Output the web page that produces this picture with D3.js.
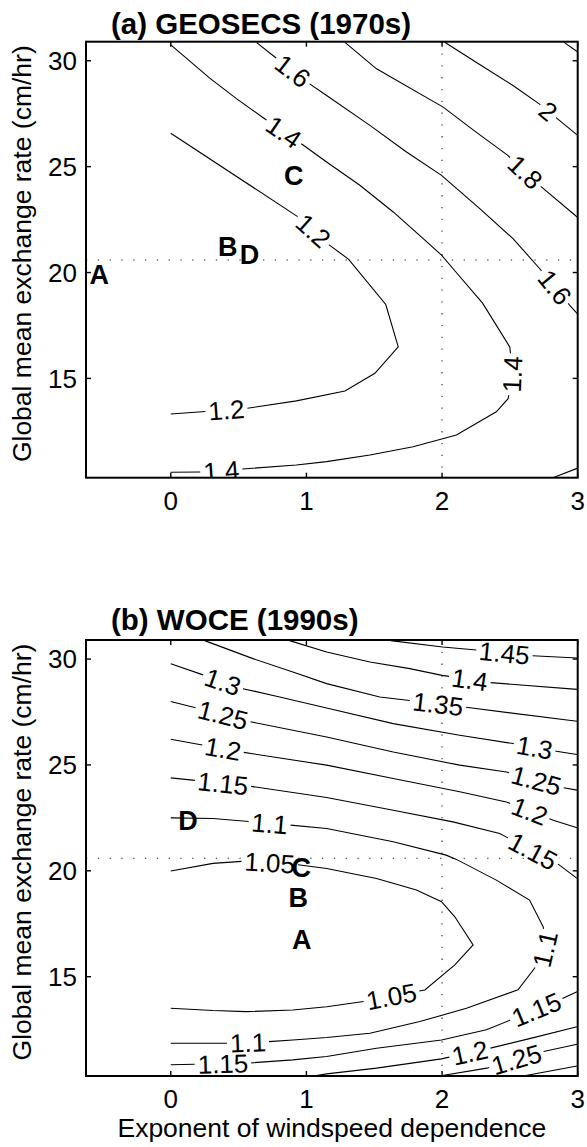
<!DOCTYPE html>
<html>
<head>
<meta charset="utf-8">
<script src="https://cdn.jsdelivr.net/npm/d3@7"></script>
<style>
  body { margin: 0; background: #fff; }
  svg { display: block; font-family: "Liberation Sans", Arial, Helvetica, sans-serif; }
</style>
</head>
<body>
<script>
// ---------- axes ----------
const xDomain = [-0.625, 3];
const yDomain = [10.31, 30.9];
const xTicks = [0, 1, 2, 3];
const yTicks = [15, 20, 25, 30];
const refExponent = 2;      // dotted vertical guide
const refRate = 20.59;      // dotted horizontal guide

// ---------- (a) GEOSECS contours: [exponent, exchange rate] ----------
const geo_1_2 = [[0,26.58],[0.94,22.62],[1.17,21.29],[1.31,20.63],[1.585,18.49],[1.677,16.49],[1.505,15.24],[1.284,14.40],[0.926,13.94],[0.557,13.58],[0,13.32]];
const geo_1_4 = [[0,30.75],[0.287,29.18],[0.484,28.21],[0.692,27.26],[0.962,26.08],[1.149,25.22],[1.394,24.12],[1.64,22.86],[1.861,21.6],[1.996,20.82],[2.08,20.19],[2.3,18.54],[2.499,16.49],[2.52,15.3],[2.487,14.04],[2.4,13.42],[2.106,12.33],[1.787,11.77],[1.468,11.38],[1.149,11.07],[0.926,10.91],[0.508,10.71],[0.238,10.58],[0,10.57]];
const geo_1_6 = [[0.631,30.87],[0.753,30.25],[1.024,28.91],[1.149,28.36],[1.468,26.95],[1.738,25.69],[1.996,24.59],[2.278,23.02],[2.523,21.6],[2.719,20.19],[2.94,18.46],[2.995,18.07]];
const geo_1_8 = [[1.284,30.87],[1.517,29.62],[2.008,27.81],[2.251,26.63],[2.485,25.53],[2.732,24.04],[2.996,22.62]];
const geo_2_0 = [[2.02,30.87],[2.251,29.93],[2.523,28.83],[2.719,27.95],[2.995,26.5]];
const geo_2_2 = [[2.9,30.87],[2.995,30.44]];
const geo_1_6b = [[2.818,10.31],[2.995,10.75]];

const geosecsContours = [
  { level: 1.2, pts: geo_1_2 },
  { level: 1.4, pts: geo_1_4 },
  { level: 1.6, pts: geo_1_6 },
  { level: 1.8, pts: geo_1_8 },
  { level: 2,   pts: geo_2_0 },
  { level: 2.2, pts: geo_2_2 },
  { level: 1.6, pts: geo_1_6b }
];
// contour index, position of the inline label
const geosecsLabels = [
  { c: 0, x: 1.05, y: 21.97 }, { c: 0, x: 0.41, y: 13.5 },
  { c: 1, x: 0.83, y: 26.6 },  { c: 1, x: 2.51, y: 15.2 }, { c: 1, x: 0.373, y: 10.6 },
  { c: 2, x: 0.9, y: 29.52 },  { c: 2, x: 2.83, y: 19.3 },
  { c: 3, x: 2.622, y: 24.8 },
  { c: 4, x: 2.78, y: 27.6 }
];
const geosecsPoints = [
  { name: "A", x: -0.527, y: 19.9 },
  { name: "B", x: 0.42, y: 21.24 },
  { name: "D", x: 0.58, y: 20.86 },
  { name: "C", x: 0.906, y: 24.59 }
];

// ---------- (b) WOCE contours ----------
const woce_1_05 = [[0,19.99],[0.311,20.35],[0.557,20.46],[0.925,20.3],[1.149,20.11],[1.517,19.64],[1.811,19.09],[1.996,18.54],[2.094,17.83],[2.229,16.5],[2.094,15.56],[1.873,14.37],[1.443,13.85],[1.149,13.58],[0.9,13.43],[0.557,13.35],[0.311,13.4],[0,13.51]];
const woce_1_1 = [[0,22.5],[0.311,22.47],[0.876,22.16],[1.149,22.0],[1.64,21.37],[2.03,20.74],[2.106,20.54],[2.4,19.56],[2.645,18.62],[2.745,17.36],[2.775,16.5],[2.682,15.4],[2.56,14.38],[2.18,13.51],[1.836,12.88],[1.468,12.33],[1.149,12.13],[0.9,12.01],[0.717,11.93],[0.41,11.86],[0,11.86]];
const woce_1_15 = [[0,24.39],[0.569,24.01],[1.149,23.46],[1.64,22.86],[2.08,22.31],[2.425,21.76],[2.866,20.27],[2.995,19.64]];
const woce_1_15b = [[0,10.84],[0.569,10.92],[0.9,11.07],[1.149,11.23],[1.517,11.62],[1.996,12.01],[2.327,12.49],[2.866,13.9],[2.995,14.29]];
const woce_1_2 = [[0,26.21],[0.52,25.61],[1.149,24.99],[1.64,24.36],[2.13,23.73],[2.474,23.25],[2.82,22.39],[2.995,22.03]];
const woce_1_2b = [[1.05,10.31],[1.149,10.41],[1.517,10.68],[1.996,11.12],[2.352,11.62],[2.66,12.1],[2.995,12.64]];
const woce_1_25 = [[0,28.0],[0.569,27.06],[1.149,26.32],[1.64,25.61],[2.13,24.99],[2.474,24.67],[2.866,23.96],[2.995,23.81]];
const woce_1_25b = [[1.98,10.31],[2.33,10.68],[2.72,11.43],[2.995,11.81]];
const woce_1_3 = [[0,29.78],[0.532,28.6],[0.803,28.21],[1.149,27.69],[1.64,26.95],[2.13,26.4],[2.523,26.01],[2.842,25.65],[2.995,25.49]];
const woce_1_3b = [[2.597,10.31],[2.995,10.78]];
const woce_1_35 = [[0.25,30.87],[0.606,30.02],[0.9,29.39],[1.149,28.84],[1.541,28.21],[2.154,27.74],[2.995,27.06]];
const woce_1_4 = [[0.876,30.87],[1.149,30.33],[1.468,29.86],[1.762,29.55],[2.0,29.23],[2.351,28.89],[2.995,28.57]];
const woce_1_45 = [[1.62,30.87],[2.005,30.57],[2.278,30.41],[2.655,30.16],[2.995,30.05]];

const woceContours = [
  { level: 1.05, pts: woce_1_05 },   // 0
  { level: 1.1,  pts: woce_1_1 },    // 1
  { level: 1.15, pts: woce_1_15 },   // 2
  { level: 1.15, pts: woce_1_15b },  // 3
  { level: 1.2,  pts: woce_1_2 },    // 4
  { level: 1.2,  pts: woce_1_2b },   // 5
  { level: 1.25, pts: woce_1_25 },   // 6
  { level: 1.25, pts: woce_1_25b },  // 7
  { level: 1.3,  pts: woce_1_3 },    // 8
  { level: 1.3,  pts: woce_1_3b },   // 9
  { level: 1.35, pts: woce_1_35 },   // 10
  { level: 1.4,  pts: woce_1_4 },    // 11
  { level: 1.45, pts: woce_1_45 }    // 12
];
const woceLabels = [
  { c: 0, x: 0.73, y: 20.4 },  { c: 0, x: 1.627, y: 14.07 },
  { c: 1, x: 0.729, y: 22.25 }, { c: 1, x: 2.76, y: 16.3 }, { c: 1, x: 0.569, y: 11.88 },
  { c: 2, x: 0.385, y: 24.13 }, { c: 2, x: 2.67, y: 20.93 },
  { c: 3, x: 0.385, y: 10.9 },  { c: 3, x: 2.695, y: 13.45 },
  { c: 4, x: 0.385, y: 25.76 }, { c: 4, x: 2.645, y: 22.8 },
  { c: 5, x: 2.205, y: 11.41 },
  { c: 6, x: 0.385, y: 27.36 }, { c: 6, x: 2.695, y: 24.27 },
  { c: 7, x: 2.548, y: 11.1 },
  { c: 8, x: 0.385, y: 28.93 }, { c: 8, x: 2.682, y: 25.83 },
  { c: 10, x: 1.97, y: 27.88 },
  { c: 11, x: 2.204, y: 29.0 },
  { c: 12, x: 2.46, y: 30.29 }
];
const wocePoints = [
  { name: "D", x: 0.127, y: 22.39 },
  { name: "C", x: 0.962, y: 20.15 },
  { name: "B", x: 0.94, y: 18.77 },
  { name: "A", x: 0.965, y: 16.79 }
];

// ---------- layout ----------
const W = 587, H = 1147;
const plotLeft = 86, plotRight = 577.7;
const fontSize = 26;

const panels = [
  { title: "(a) GEOSECS (1970s)", top: 41.7, bottom: 477.7, titleY: 33.5,
    contours: geosecsContours, labels: geosecsLabels, points: geosecsPoints, xlabel: false },
  { title: "(b) WOCE (1990s)", top: 640, bottom: 1076, titleY: 629.5,
    contours: woceContours, labels: woceLabels, points: wocePoints, xlabel: true }
];

const svg = d3.select("body").append("svg").attr("width", W).attr("height", H);
svg.append("rect").attr("width", W).attr("height", H).attr("fill", "#fff");
const defs = svg.append("defs");

// polyline helpers (pixel space)
function cumLen(pl) {
  const L = [0];
  for (let i = 1; i < pl.length; i++)
    L.push(L[i - 1] + Math.hypot(pl[i][0] - pl[i - 1][0], pl[i][1] - pl[i - 1][1]));
  return L;
}
function pointAt(pl, L, s) {
  s = Math.max(0, Math.min(L[L.length - 1], s));
  for (let i = 1; i < pl.length; i++) {
    if (s <= L[i]) {
      const seg = L[i] - L[i - 1] || 1;
      const t = (s - L[i - 1]) / seg;
      return [pl[i - 1][0] + t * (pl[i][0] - pl[i - 1][0]), pl[i - 1][1] + t * (pl[i][1] - pl[i - 1][1])];
    }
  }
  return pl[pl.length - 1];
}
function project(pl, L, p) {
  let best = { d: Infinity, s: 0 };
  for (let i = 1; i < pl.length; i++) {
    const ax = pl[i - 1][0], ay = pl[i - 1][1], dx = pl[i][0] - ax, dy = pl[i][1] - ay;
    const len2 = dx * dx + dy * dy;
    let t = len2 ? ((p[0] - ax) * dx + (p[1] - ay) * dy) / len2 : 0;
    t = Math.max(0, Math.min(1, t));
    const d = Math.hypot(p[0] - (ax + t * dx), p[1] - (ay + t * dy));
    if (d < best.d) best = { d, s: L[i - 1] + t * Math.sqrt(len2) };
  }
  return best.s;
}
function slicePl(pl, L, s0, s1) {
  const out = [pointAt(pl, L, s0)];
  for (let i = 0; i < pl.length; i++) if (L[i] > s0 && L[i] < s1) out.push(pl[i]);
  out.push(pointAt(pl, L, s1));
  return out;
}

const lineGen = d3.line();

panels.forEach((p, pi) => {
  const x = d3.scaleLinear().domain(xDomain).range([plotLeft, plotRight]);
  const y = d3.scaleLinear().domain(yDomain).range([p.bottom, p.top]);

  const clipId = "plotclip" + pi;
  defs.append("clipPath").attr("id", clipId)
    .append("rect").attr("x", plotLeft).attr("y", p.top)
    .attr("width", plotRight - plotLeft).attr("height", p.bottom - p.top);

  const plot = svg.append("g").attr("clip-path", `url(#${clipId})`);

  // dotted guides
  plot.append("line")
    .attr("x1", x(refExponent)).attr("x2", x(refExponent))
    .attr("y1", p.top).attr("y2", p.bottom)
    .attr("stroke", "#222").attr("stroke-width", 1.1).attr("stroke-dasharray", "1.3 10.5");
  plot.append("line")
    .attr("x1", plotLeft).attr("x2", plotRight)
    .attr("y1", y(refRate)).attr("y2", y(refRate))
    .attr("stroke", "#222").attr("stroke-width", 1.1).attr("stroke-dasharray", "1.3 10.5");

  // contours in pixel space
  const lines = p.contours.map(c => c.pts.map(d => [x(d[0]), y(d[1])]));
  const lens = lines.map(cumLen);
  const cuts = lines.map(() => []);

  const lineLayer = plot.append("g");
  const labelLayer = plot.append("g");

  p.labels.forEach(lb => {
    const pl = lines[lb.c], L = lens[lb.c];
    const g = labelLayer.append("g");
    const bg = g.append("rect").attr("fill", "#fff");
    const t = g.append("text")
      .text(String(p.contours[lb.c].level))
      .attr("font-size", fontSize)
      .attr("text-anchor", "middle")
      .attr("dy", "0.36em")
      .attr("fill", "#000");
    const w = t.node().getComputedTextLength();
    const s0 = project(pl, L, [x(lb.x), y(lb.y)]);
    const half = w / 2 + 3;
    const a = pointAt(pl, L, s0 - half), b = pointAt(pl, L, s0 + half);
    let ang = Math.atan2(b[1] - a[1], b[0] - a[0]) * 180 / Math.PI;
    if (ang > 80) ang -= 180;
    if (ang <= -90) ang += 180;
    const c = pointAt(pl, L, s0);
    g.attr("transform", `translate(${c[0]},${c[1]}) rotate(${ang})`);
    bg.attr("x", -w / 2 - 1).attr("y", -fontSize * 0.4).attr("width", w + 2).attr("height", fontSize * 0.8);
    cuts[lb.c].push([s0 - half, s0 + half]);
  });

  lines.forEach((pl, i) => {
    const L = lens[i], total = L[L.length - 1];
    const cs = cuts[i].slice().sort((u, v) => u[0] - v[0]);
    let start = 0;
    const pieces = [];
    cs.forEach(([c0, c1]) => {
      if (c0 > start) pieces.push(slicePl(pl, L, start, c0));
      start = Math.max(start, c1);
    });
    if (start < total) pieces.push(slicePl(pl, L, start, total));
    pieces.forEach(pc => {
      lineLayer.append("path").attr("d", lineGen(pc))
        .attr("fill", "none").attr("stroke", "#000").attr("stroke-width", 1.1);
    });
  });

  // letter markers
  plot.append("g").selectAll("text").data(p.points).join("text")
    .attr("x", d => x(d.x)).attr("y", d => y(d.y))
    .attr("dy", "0.36em")
    .attr("text-anchor", "middle")
    .attr("font-size", 27).attr("font-weight", "bold")
    .text(d => d.name);

  // axes box and inward ticks on all sides
  const axes = svg.append("g");
  const tickLen = 5;
  xTicks.forEach(v => {
    axes.append("line").attr("x1", x(v)).attr("x2", x(v)).attr("y1", p.bottom).attr("y2", p.bottom - tickLen)
      .attr("stroke", "#000").attr("stroke-width", 1.4);
    axes.append("line").attr("x1", x(v)).attr("x2", x(v)).attr("y1", p.top).attr("y2", p.top + tickLen)
      .attr("stroke", "#000").attr("stroke-width", 1.4);
    axes.append("text").attr("x", x(v)).attr("y", p.bottom + 32)
      .attr("text-anchor", "middle").attr("font-size", fontSize).text(v);
  });
  yTicks.forEach(v => {
    axes.append("line").attr("x1", plotLeft).attr("x2", plotLeft + tickLen).attr("y1", y(v)).attr("y2", y(v))
      .attr("stroke", "#000").attr("stroke-width", 1.4);
    axes.append("line").attr("x1", plotRight).attr("x2", plotRight - tickLen).attr("y1", y(v)).attr("y2", y(v))
      .attr("stroke", "#000").attr("stroke-width", 1.4);
    axes.append("text").attr("x", 77).attr("y", y(v)).attr("dy", "0.36em")
      .attr("text-anchor", "end").attr("font-size", fontSize).text(v);
  });
  axes.append("rect")
    .attr("x", plotLeft).attr("y", p.top)
    .attr("width", plotRight - plotLeft).attr("height", p.bottom - p.top)
    .attr("fill", "none").attr("stroke", "#000").attr("stroke-width", 2);

  // titles and axis labels
  svg.append("text").attr("x", 111).attr("y", p.titleY)
    .attr("font-size", 29.5).attr("font-weight", "bold").text(p.title);

  const yMid = (p.top + p.bottom) / 2 - 6;
  svg.append("text")
    .attr("transform", `translate(30.6,${yMid}) rotate(-90)`)
    .attr("text-anchor", "middle").attr("font-size", 26.5)
    .text("Global mean exchange rate (cm/hr)");

  if (p.xlabel) {
    svg.append("text").attr("x", (plotLeft + plotRight) / 2).attr("y", 1137)
      .attr("text-anchor", "middle").attr("font-size", 26.5)
      .text("Exponent of windspeed dependence");
  }
});
</script>
</body>
</html>
